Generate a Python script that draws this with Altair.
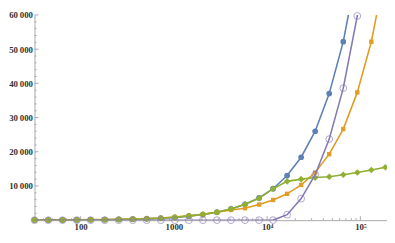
import altair as alt
import pandas as pd

# sample sizes (x) and the four series (y)
n_values = [32, 45, 64, 91, 128, 181, 256, 362, 512, 724, 1024, 1448, 2048, 2896,
            4096, 5793, 8192, 11585, 16384, 23170, 32768, 46341, 65536, 92682,
            131072, 185364]
blue = [26, 36, 51, 72, 102, 145, 205, 290, 410, 580, 820, 1160, 1640, 2320,
        3280, 4630, 6500, 9200, 13050, 18400, 26000, 37000, 52200, 73500]
orange = [60, 75, 95, 120, 150, 200, 260, 350, 460, 630, 900, 1250, 1700, 2330,
          3000, 3500, 4560, 5900, 7700, 10300, 13940, 19300, 26640, 37360, 52180, 73000]
green = [26, 36, 51, 72, 102, 145, 205, 290, 410, 580, 850, 1260, 1720, 2330,
         3300, 4650, 6400, 9200, 11350, 12000, 12450, 12700, 13300, 13950, 14650, 15450]
purple = [0, 0, 0, 0, 0, 0, 0, 0, 0, 0, 0, 0, 0, 0, 0, 0, 0, 20,
          1600, 6300, 13300, 23700, 38600, 59700, 90000]

x_tick_values = [100, 1000, 10000, 100000]
x_tick_labels = ["100", "1000", "10\u2074", "10\u2075"]
x_minor_ticks = [40, 50, 60, 70, 80, 90, 200, 300, 400, 500, 600, 700, 800, 900,
                 2000, 3000, 4000, 5000, 6000, 7000, 8000, 9000,
                 20000, 30000, 40000, 50000, 60000, 70000, 80000, 90000]
y_tick_values = [10000, 20000, 30000, 40000, 50000, 60000]
y_minor_ticks = [2000, 4000, 6000, 8000, 12000, 14000, 16000, 18000, 22000, 24000,
                 26000, 28000, 32000, 34000, 36000, 38000, 42000, 44000, 46000,
                 48000, 52000, 54000, 56000, 58000]

W, H = 359, 209
GRAY = "#a8a8a8"
FONT = "Liberation Serif"
Y_MAX = 60000

xscale = alt.Scale(type="log", domain=[32, 193000], nice=False)
yscale = alt.Scale(domain=[0, Y_MAX], nice=False, zero=False)

label_expr = " : ".join(
    f"datum.value == {v} ? '{l}'" for v, l in zip(x_tick_values, x_tick_labels)
) + " : ''"
x_axis = alt.Axis(values=x_tick_values, labelExpr=label_expr, ticks=False, grid=False,
                  domainColor=GRAY, domainWidth=1, labelFont=FONT, labelFontSize=9,
                  labelFontWeight="bold", labelColor="#333333", labelPadding=3,
                  title=None)
y_axis = alt.Axis(values=y_tick_values,
                  labelExpr="replace(format(datum.value, ','), ',', '\u2009')",
                  ticks=False, grid=False, domainColor=GRAY, domainWidth=1,
                  labelFont=FONT, labelFontSize=9, labelFontWeight="bold",
                  labelColor="#333333", labelPadding=2, title=None)

def X(field):
    return alt.X(field, type="quantitative", scale=xscale, axis=x_axis)

def Y(field):
    return alt.Y(field, type="quantitative", scale=yscale, axis=y_axis)

layers = []
# inward ticks
layers.append(alt.Chart(pd.DataFrame({"v": x_tick_values})).mark_rule(color=GRAY, strokeWidth=1)
              .encode(x=X("v"), y=alt.value(H), y2=alt.value(H - 4)))
layers.append(alt.Chart(pd.DataFrame({"v": x_minor_ticks})).mark_rule(color=GRAY, strokeWidth=1)
              .encode(x=X("v"), y=alt.value(H), y2=alt.value(H - 2)))
layers.append(alt.Chart(pd.DataFrame({"v": y_tick_values})).mark_rule(color=GRAY, strokeWidth=1)
              .encode(y=Y("v"), x=alt.value(0), x2=alt.value(4)))
layers.append(alt.Chart(pd.DataFrame({"v": y_minor_ticks})).mark_rule(color=GRAY, strokeWidth=1)
              .encode(y=Y("v"), x=alt.value(0), x2=alt.value(2)))

series = [
    (blue, "#5E81B5", "circle", True, 34),
    (orange, "#E19C24", "square", True, 20),
    (green, "#8FB032", "diamond", True, 45),
    (purple, "#8778B3", "circle", False, 48),
]
for vals, color, shape, filled, size in series:
    df = pd.DataFrame({"n": n_values[:len(vals)], "v": vals})
    line = alt.Chart(df).mark_line(color=color, strokeWidth=1.6, clip=True).encode(
        x=X("n"), y=Y("v"))
    pts_df = df[df["v"] <= Y_MAX]
    if filled:
        pts = alt.Chart(pts_df).mark_point(shape=shape, filled=True, size=size,
                                           color=color, opacity=1)
    else:
        pts = alt.Chart(pts_df).mark_point(shape=shape, filled=False, size=size,
                                           color=color, strokeWidth=1, opacity=0.65)
    layers.append(line)
    layers.append(pts.encode(x=X("n"), y=Y("v")))

chart = alt.layer(*layers).properties(
    width=W, height=H,
    autosize=alt.AutoSizeParams(type="none"),
    padding={"left": 27, "top": 5, "right": 0, "bottom": 12},
).configure_view(stroke=None)

chart.save("out.html", embed_options={"renderer": "svg", "actions": False})
